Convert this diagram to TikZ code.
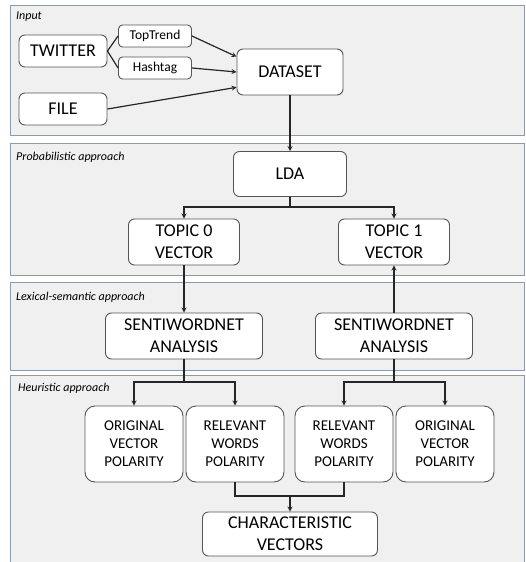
\documentclass[tikz,border=0pt]{standalone}
\usepackage{fontspec}
\setmainfont{Carlito}
\usepackage{tikz}
\usetikzlibrary{positioning}

\definecolor{panelfill}{HTML}{F0F0F0}
\definecolor{panelline}{HTML}{8A9BB0}
\definecolor{boxline}{HTML}{555555}

\begin{document}
\begin{tikzpicture}[
    x=1pt, y=-1pt, >=stealth,
    panel/.style={draw=panelline, fill=panelfill, line width=0.9pt},
    panellabel/.style={anchor=west, font=\fontsize{12}{14}\selectfont\itshape, inner sep=0pt},
    box/.style={rectangle, rounded corners=6pt, draw=boxline, fill=white, line width=0.9pt, align=center, inner sep=0pt, font=\fontsize{18}{21.6}\selectfont},
    smallbox/.style={box, rounded corners=4pt, font=\fontsize{13.5}{16}\selectfont, minimum width=73pt, minimum height=22pt},
    polbox/.style={box, rounded corners=10pt, font=\fontsize{15}{18}\selectfont, minimum width=98pt, minimum height=76pt},
    link/.style={line width=1.2pt, draw=black!85}
    ]
    \useasboundingbox (0,0) rectangle (526,562);

    %Panels
    \draw[panel] (10,5) rectangle (524,135);
    \draw[panel] (10,143) rectangle (524,275);
    \draw[panel] (10,282) rectangle (524,370);
    \draw[panel] (10,375) rectangle (524,566);
    \node[panellabel]   (input_label)       at (16,17)  {Input};
    \node[panellabel]   (prob_label)        at (16,157) {Probabilistic approach};
    \node[panellabel]   (lex_label)         at (16,297) {Lexical-semantic approach};
    \node[panellabel]   (heur_label)        at (18,388) {Heuristic approach};

    %Input nodes
    \node[box, minimum width=88pt, minimum height=32pt]     (twitter)   at (63,51)  {TWITTER};
    \node[smallbox]                                         (top_trend) at (155,36) {TopTrend};
    \node[smallbox]                                         (hashtag)   at (155,68) {Hashtag};
    \node[box, minimum width=88pt, minimum height=32pt]     (file)      at (63,109) {FILE};
    \node[box, minimum width=106pt, minimum height=46pt]    (dataset)   at (290,72) {DATASET};

    %Probabilistic nodes
    \node[box, minimum width=113pt, minimum height=45pt]    (lda)        at (290,174) {LDA};
    \node[box, minimum width=111pt, minimum height=46pt]    (topic_zero) at (184,242) {TOPIC 0\\VECTOR};
    \node[box, minimum width=111pt, minimum height=46pt]    (topic_one)  at (394,242) {TOPIC 1\\VECTOR};

    %Lexical-semantic nodes
    \node[box, minimum width=157pt, minimum height=46pt]    (senti_left)  at (184,336) {SENTIWORDNET\\ANALYSIS};
    \node[box, minimum width=157pt, minimum height=46pt]    (senti_right) at (394,336) {SENTIWORDNET\\ANALYSIS};

    %Heuristic nodes
    \node[polbox]   (orig_left)     at (134,444) {ORIGINAL\\VECTOR\\POLARITY};
    \node[polbox]   (rel_left)      at (235,444) {RELEVANT\\WORDS\\POLARITY};
    \node[polbox]   (rel_right)     at (344,444) {RELEVANT\\WORDS\\POLARITY};
    \node[polbox]   (orig_right)    at (445,444) {ORIGINAL\\VECTOR\\POLARITY};
    \node[box, minimum width=175pt, minimum height=44pt]    (characteristic) at (290,534) {CHARACTERISTIC\\VECTORS};

    %Junctions
    \coordinate (lda_split)   at (290,207);
    \coordinate (left_split)  at (184,382);
    \coordinate (right_split) at (394,382);
    \coordinate (merge)       at (290,496);

    %Lines
    \draw[link]     (twitter.east) -- (top_trend.west);
    \draw[link]     (twitter.east) -- (hashtag.west);
    \draw[link,->]  (top_trend.east) -- (dataset.164);
    \draw[link,->]  (hashtag.east) -- (dataset.west);
    \draw[link,->]  (file.east) -- (dataset.196);
    \draw[link,->]  (dataset.south) -- (lda.north);

    \draw[link]     (lda.south) -- (lda_split);
    \draw[link,->]  (lda_split) -| (topic_zero.north);
    \draw[link,->]  (lda_split) -| (topic_one.north);

    \draw[link,->]  (topic_zero.south) -- (senti_left.north);
    \draw[link,->]  (senti_right.north) -- (topic_one.south);

    \draw[link]     (senti_left.south) -- (left_split);
    \draw[link,->]  (left_split) -| (orig_left.north);
    \draw[link,->]  (left_split) -| (rel_left.north);
    \draw[link]     (senti_right.south) -- (right_split);
    \draw[link,->]  (right_split) -| (rel_right.north);
    \draw[link,->]  (right_split) -| (orig_right.north);

    \draw[link]     (rel_left.south) |- (merge) -| (rel_right.south);
    \draw[link,->]  (merge) -- (characteristic.north);

\end{tikzpicture}
\end{document}
